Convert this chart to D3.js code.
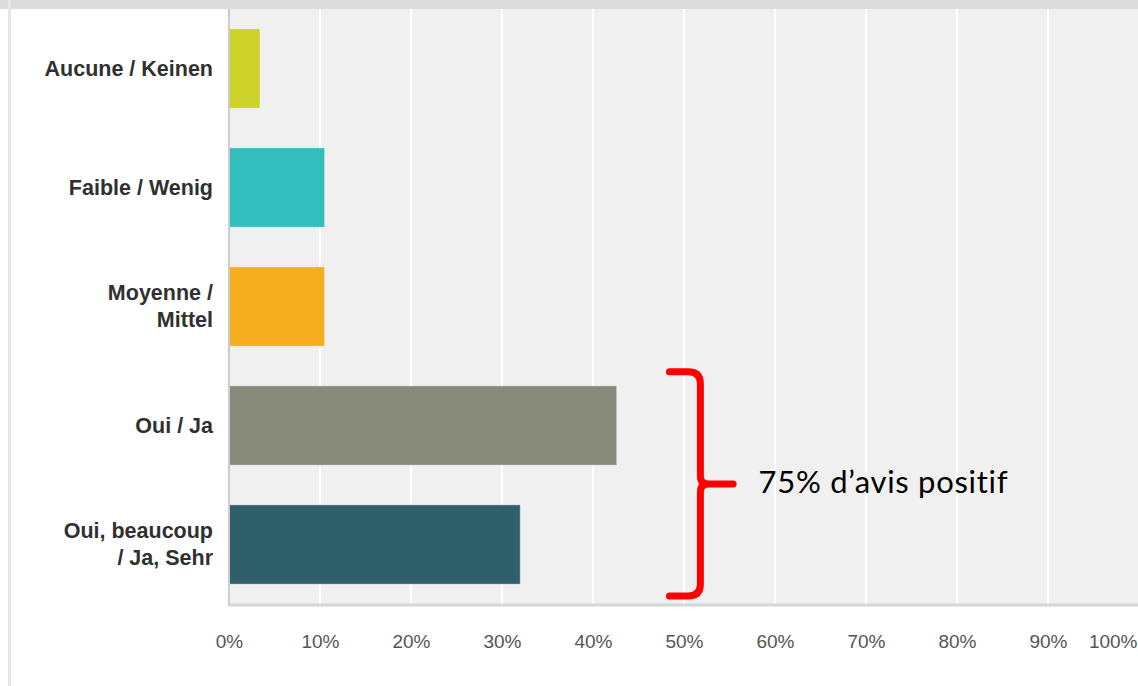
<!DOCTYPE html>
<html>
<head>
<meta charset="utf-8">
<script src="https://cdn.jsdelivr.net/npm/d3@7"></script>
<style>
    body { margin: 0; background: #ffffff; }
    svg { display: block; }
</style>
</head>
<body>
<svg id="drawing_region"></svg>
<script>
// answers (top to bottom) and share of respondents, in percent
const categories = ["Aucune / Keinen", "Faible / Wenig", "Moyenne /\nMittel", "Oui / Ja", "Oui, beaucoup\n/ Ja, Sehr"];
const values = [3.4, 10.5, 10.5, 42.6, 32.0];
const colors = ["#cdd22a", "#33bdbd", "#f6ae21", "#878a78", "#2e5f6b"];
const xticks = [0, 10, 20, 30, 40, 50, 60, 70, 80, 90, 100];
const note = "75% d\u2019avis positif";

class BarChart {

    constructor( config ) {
        this.config = {
            parent: config.parent,
            width: config.width || 1138,
            height: config.height || 686,
            margin: config.margin || {top:9, right:0, bottom:82, left:229}
        }
        this.init();
    }

    init() {
        let self = this;

        self.svg = d3.select( self.config.parent )
            .attr('width', self.config.width)
            .attr('height', self.config.height);

        // grey frame of the screenshot
        self.svg.append('rect')
            .attr('x', 0).attr('y', 0)
            .attr('width', self.config.width).attr('height', self.config.margin.top)
            .attr('fill', '#dcdcde');
        self.svg.append('rect')
            .attr('x', 8).attr('y', 0)
            .attr('width', 3).attr('height', self.config.height)
            .attr('fill', '#e6e6e6');

        self.inner_width = 910;
        self.inner_height = self.config.height - self.config.margin.top - self.config.margin.bottom;

        self.chart = self.svg.append('g')
            .attr('transform', `translate(${self.config.margin.left}, ${self.config.margin.top})`);

        self.xscale = d3.scaleLinear()
            .domain( [0, 100] )
            .range( [0, self.inner_width] );

        self.yscale = d3.scaleBand()
            .domain( categories )
            .range( [0, self.inner_height] )
            .paddingInner( 0.334 )
            .paddingOuter( 0.167 );

        self.xaxis = d3.axisBottom( self.xscale )
            .tickValues( xticks )
            .tickSize( 0 )
            .tickPadding( 31 )
            .tickFormat( d => d + '%' );

        self.yaxis = d3.axisLeft( self.yscale )
            .tickSize( 0 )
            .tickPadding( 16 );
    }

    render() {
        let self = this;

        self.chart.append('rect')
            .attr('x', 0).attr('y', 0)
            .attr('width', self.config.width - self.config.margin.left)
            .attr('height', self.inner_height)
            .attr('fill', '#f0f0f0');

        self.chart.selectAll('.grid')
            .data( xticks.filter( d => d > 0 ) )
            .enter()
            .append('line')
            .attr('class', 'grid')
            .attr('x1', d => self.xscale(d) ).attr('x2', d => self.xscale(d) )
            .attr('y1', 0).attr('y2', self.inner_height)
            .attr('stroke', '#ffffff')
            .attr('stroke-width', 2);

        self.chart.selectAll('.bar')
            .data( values )
            .enter()
            .append('rect')
            .attr('class', 'bar')
            .attr('x', self.xscale(0) )
            .attr('y', (d,i) => self.yscale( categories[i] ) )
            .attr('width', d => self.xscale(d) - self.xscale(0) )
            .attr('height', self.yscale.bandwidth() )
            .attr('fill', (d,i) => colors[i] )
            .attr('stroke', 'rgba(255,255,255,0.35)')
            .attr('stroke-width', 1);

        // axis lines
        self.chart.append('line')
            .attr('x1', 0).attr('x2', self.config.width)
            .attr('y1', self.inner_height + 1).attr('y2', self.inner_height + 1)
            .attr('stroke', '#d6d6d6').attr('stroke-width', 3);
        self.chart.append('line')
            .attr('x1', 0).attr('x2', 0)
            .attr('y1', 0).attr('y2', self.inner_height + 2)
            .attr('stroke', '#cccccc').attr('stroke-width', 2);

        self.xaxis_group = self.chart.append('g')
            .attr('transform', `translate(0, ${self.inner_height})`)
            .call( self.xaxis );
        self.xaxis_group.select('.domain').remove();
        self.xaxis_group.selectAll('text')
            .attr('fill', '#555555')
            .attr('font-family', '"Liberation Sans", Arial, sans-serif')
            .attr('font-size', '19px')
            .filter( d => d === 100 )
            .attr('text-anchor', 'end')
            .attr('dx', '-2px');

        self.yaxis_group = self.chart.append('g')
            .call( self.yaxis );
        self.yaxis_group.select('.domain').remove();
        self.yaxis_group.selectAll('text')
            .attr('fill', '#303030')
            .attr('font-family', '"Liberation Sans", Arial, sans-serif')
            .attr('font-weight', 'bold')
            .attr('font-size', '21.5px')
            .attr('dy', null)
            .each( function(d) {
                const lines = d.split('\n');
                const t = d3.select(this).text(null);
                const x = t.attr('x');
                lines.forEach( (line, k) => {
                    t.append('tspan')
                        .attr('x', x)
                        .attr('y', 0)
                        .attr('dy', (0.33 + (k - (lines.length - 1) / 2) * 1.22) + 'em')
                        .text(line);
                });
            });

        // annotation: brace over the two positive answers
        const top = self.yscale('Oui / Ja') - 14;
        const bottom = self.inner_height - 8;
        const mid = (top + bottom) / 2;
        const xl = self.xscale(48.4), xb = self.xscale(51.8), xt = self.xscale(55.4);
        const r = 12;
        const p = d3.path();
        p.moveTo(xl, top);
        p.lineTo(xb - r, top);
        p.quadraticCurveTo(xb, top, xb, top + r);
        p.lineTo(xb, mid - 8);
        p.quadraticCurveTo(xb, mid, xb + 8, mid);
        p.lineTo(xt, mid);
        p.moveTo(xb + 8, mid);
        p.quadraticCurveTo(xb, mid, xb, mid + 8);
        p.lineTo(xb, bottom - r);
        p.quadraticCurveTo(xb, bottom, xb - r, bottom);
        p.lineTo(xl, bottom);

        self.chart.append('path')
            .attr('d', p.toString())
            .attr('fill', 'none')
            .attr('stroke', '#ff0000')
            .attr('stroke-width', 7)
            .attr('stroke-linejoin', 'round')
            .attr('stroke-linecap', 'round');

        self.chart.append('text')
            .attr('x', self.xscale(58.2))
            .attr('y', mid + 9)
            .attr('font-family', 'Lato, "Open Sans", sans-serif')
            .attr('font-size', '31px')
            .attr('letter-spacing', '0.7px')
            .attr('fill', '#000000')
            .text( note );
    }
}

const bar_chart = new BarChart({
    parent: '#drawing_region',
    width: 1138,
    height: 686,
    margin: {top:9, right:0, bottom:82, left:229}
});
bar_chart.render();
</script>
</body>
</html>
